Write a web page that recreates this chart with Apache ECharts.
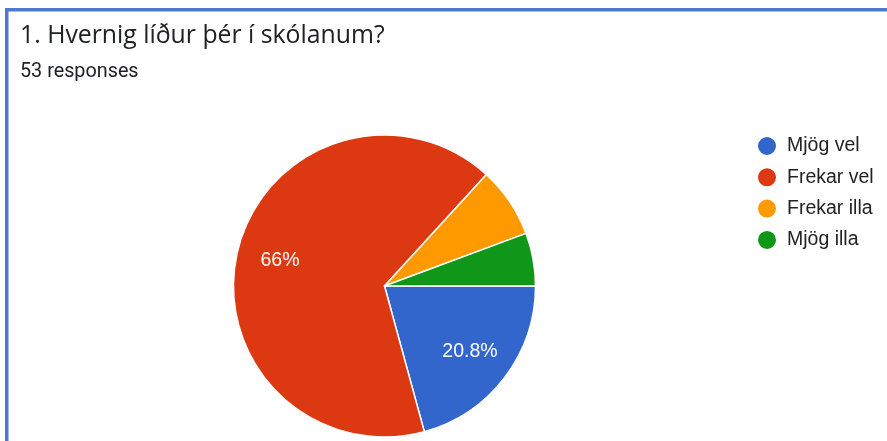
<!DOCTYPE html>
<html>
<head>
<meta charset="utf-8">
<script src="https://cdn.jsdelivr.net/npm/echarts@6/dist/echarts.min.js"></script>
<style>
  html, body { margin: 0; padding: 0; background: #fff; }
  #chart { width: 887px; height: 441px; }
</style>
</head>
<body>
<div id="chart"></div>
<script>
// svör við spurningu 1
const categories = ['Mjög vel', 'Frekar vel', 'Frekar illa', 'Mjög illa'];
const counts = [11, 35, 4, 3];
const colors = ['#3366cc', '#dc3912', '#ff9900', '#109618'];
const titleText = '1. Hvernig líður þér í skólanum?';
const responsesText = '53 responses';

const total = counts.reduce((a, b) => a + b, 0);
const pieData = categories.map((name, i) => ({ name: name, value: counts[i] }));

function pct(v) {
  let p = Math.round(v / total * 1000) / 10;
  return (p % 1 === 0 ? p.toFixed(0) : p.toFixed(1)) + '%';
}

const chart = echarts.init(document.getElementById('chart'));
const option = {
  animation: false,
  color: colors,
  graphic: [
    // ramminn
    { type: 'rect', shape: { x: 5, y: 8, width: 882, height: 3.5 }, style: { fill: '#4a7bd0' } },
    { type: 'rect', shape: { x: 5, y: 8, width: 3.5, height: 433 }, style: { fill: '#4a7bd0' } },
    { type: 'text', left: 20, top: 23, style: { text: titleText, font: '24.8px "Open Sans"', fill: '#202124' } },
    { type: 'text', left: 20, top: 62, style: { text: responsesText, font: '19.8px Roboto', fill: '#202124' } }
  ],
  legend: {
    orient: 'vertical',
    left: 751,
    top: 130,
    icon: 'circle',
    itemWidth: 20,
    itemHeight: 20,
    itemGap: 9.3,
    data: categories,
    textStyle: { fontFamily: 'Liberation Sans', fontSize: 19.5, color: '#222', padding: [0, 0, 0, 5] }
  },
  series: [
    {
      type: 'pie',
      center: [384.5, 286],
      radius: [0, 151],
      startAngle: 0,
      clockwise: true,
      silent: true,
      label: { show: false },
      labelLine: { show: false },
      itemStyle: { borderColor: '#fff', borderWidth: 1.5 },
      data: pieData
    },
    {
      // bara merkingar
      type: 'pie',
      center: [384.5, 286],
      radius: [58, 151],
      startAngle: 0,
      clockwise: true,
      silent: true,
      legendHoverLink: false,
      itemStyle: { color: 'rgba(0,0,0,0)' },
      label: {
        show: true,
        position: 'inside',
        color: '#fff',
        fontFamily: 'Liberation Sans',
        fontSize: 19.5,
        formatter: p => (p.value / total < 0.1 ? '' : pct(p.value))
      },
      labelLine: { show: false },
      data: pieData
    }
  ]
};
chart.setOption(option);
</script>
</body>
</html>
